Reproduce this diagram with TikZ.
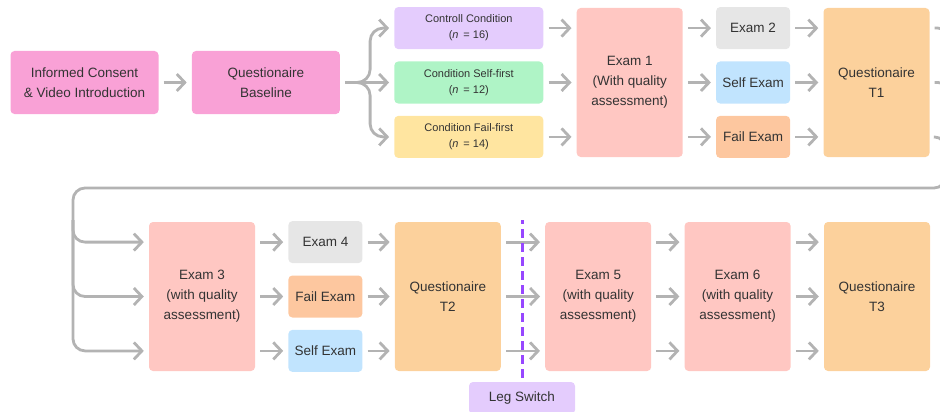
\documentclass[tikz,border=0pt]{standalone}
\usepackage{fontspec}
\setmainfont{Liberation Sans}
\usetikzlibrary{arrows.meta, positioning}

\definecolor{consentpink}{HTML}{F9A1D6}
\definecolor{controlpurple}{HTML}{E4CCFD}
\definecolor{selfgreen}{HTML}{AFF4C6}
\definecolor{failyellow}{HTML}{FFE5A0}
\definecolor{examred}{HTML}{FFC7C2}
\definecolor{examgrey}{HTML}{E6E6E6}
\definecolor{selfblue}{HTML}{C1E4FE}
\definecolor{failorange}{HTML}{FDC79F}
\definecolor{quesorange}{HTML}{FCD19C}
\definecolor{legpurple}{HTML}{9747FF}
\definecolor{arrowgrey}{HTML}{B3B3B3}
\definecolor{textgrey}{HTML}{333333}

\begin{document}
\begin{tikzpicture}[
x=1pt, y=1pt,
node distance=12pt and 33pt,
box/.style={rectangle, rounded corners=4pt, align=center, inner sep=1pt, text=textgrey, font=\fontsize{13.5}{20}\selectfont},
wide/.style={box, minimum width=148pt, minimum height=63pt},
cond/.style={box, minimum width=149pt, minimum height=42pt, font=\fontsize{11}{16}\selectfont},
small/.style={box, minimum width=74pt, minimum height=42pt},
tall/.style={box, minimum width=106pt, minimum height=149pt},
link/.style={draw=arrowgrey, line width=2.8pt, shorten <=5pt},
arrow/.style={link, -{Straight Barb[length=8pt, width=17pt]}, shorten >=5pt},
legline/.style={draw=legpurple, line width=3pt, dash pattern=on 9pt off 5pt}
]

\useasboundingbox (0,0) rectangle (940,-412);
\clip (0,0) rectangle (940,-412);

\node[wide, fill=consentpink] (consent) at (84.5,-82.5)
{Informed Consent\\
\& Video Introduction};

\node[wide, fill=consentpink, right=of consent] (baseline)
{Questionaire\\
Baseline};

\node[cond, fill=selfgreen, right=54pt of baseline] (selffirst)
{Condition Self-first\\
(\textit{n} \,= 12)};

\node[cond, fill=controlpurple, above=of selffirst] (control)
{Controll Condition\\
(\textit{n} \,= 16)};

\node[cond, fill=failyellow, below=of selffirst] (failfirst)
{Condition Fail-first\\
(\textit{n} \,= 14)};

\node[tall, fill=examred, right=of selffirst] (exam1)
{Exam 1\\
(With quality\\
assessment)};

\node[small, fill=selfblue, right=of exam1] (selfexam1) {Self Exam};
\node[small, fill=examgrey, above=of selfexam1] (exam2) {Exam 2};
\node[small, fill=failorange, below=of selfexam1] (failexam1) {Fail Exam};

\node[tall, fill=quesorange, right=of selfexam1] (t1)
{Questionaire\\
T1};

\node[tall, fill=examred] (exam3) at (202,-296.5)
{Exam 3\\
(with quality\\
assessment)};

\node[small, fill=failorange, right=of exam3] (failexam2) {Fail Exam};
\node[small, fill=examgrey, above=of failexam2] (exam4) {Exam 4};
\node[small, fill=selfblue, below=of failexam2] (selfexam2) {Self Exam};

\node[tall, fill=quesorange, right=32pt of failexam2] (t2)
{Questionaire\\
T2};

\node[tall, fill=examred, right=44pt of t2] (exam5)
{Exam 5\\
(with quality\\
assessment)};

\node[tall, fill=examred, right=of exam5] (exam6)
{Exam 6\\
(with quality\\
assessment)};

\node[tall, fill=quesorange, right=of exam6] (t3)
{Questionaire\\
T3};

\node[box, fill=controlpurple, minimum width=106pt, minimum height=32pt] (legswitch) at (522,-398)
{Leg Switch};

\coordinate (loopright) at (946,-188);
\coordinate (loopleft) at (73,-188);
\coordinate (loopmid) at (73,-215);

\draw[arrow] (consent) -- (baseline);
\draw[arrow, rounded corners=13pt] (baseline.east) -- ++(30,0) |- (control.west);
\draw[arrow] (baseline) -- (selffirst);
\draw[arrow, rounded corners=13pt] (baseline.east) -- ++(30,0) |- (failfirst.west);

\draw[arrow] (control) -- (exam1.west |- control);
\draw[arrow] (selffirst) -- (exam1.west |- selffirst);
\draw[arrow] (failfirst) -- (exam1.west |- failfirst);

\draw[arrow] (exam1.east |- exam2) -- (exam2);
\draw[arrow] (exam1.east |- selfexam1) -- (selfexam1);
\draw[arrow] (exam1.east |- failexam1) -- (failexam1);

\draw[arrow] (exam2) -- (t1.west |- exam2);
\draw[arrow] (selfexam1) -- (t1.west |- selfexam1);
\draw[arrow] (failexam1) -- (t1.west |- failexam1);

\draw[link, rounded corners=8pt] (t1.east |- exam2) -| (loopright);
\draw[link, rounded corners=8pt] (t1.east |- selfexam1) -| (loopright);
\draw[arrow, rounded corners=12pt] (t1.east |- failexam1) -| (loopright) -- (loopleft) |- (exam3.west |- selfexam2);
\draw[arrow, rounded corners=12pt] (loopmid) |- (exam3.west |- exam4);
\draw[arrow, rounded corners=12pt] (loopmid) |- (exam3.west |- failexam2);

\draw[arrow] (exam3.east |- exam4) -- (exam4);
\draw[arrow] (exam3.east |- failexam2) -- (failexam2);
\draw[arrow] (exam3.east |- selfexam2) -- (selfexam2);

\draw[arrow] (exam4) -- (t2.west |- exam4);
\draw[arrow] (failexam2) -- (t2.west |- failexam2);
\draw[arrow] (selfexam2) -- (t2.west |- selfexam2);

\draw[arrow] (t2.east |- exam4) -- (exam5.west |- exam4);
\draw[arrow] (t2.east |- failexam2) -- (exam5.west |- failexam2);
\draw[arrow] (t2.east |- selfexam2) -- (exam5.west |- selfexam2);

\draw[arrow] (exam5.east |- exam4) -- (exam6.west |- exam4);
\draw[arrow] (exam5.east |- failexam2) -- (exam6.west |- failexam2);
\draw[arrow] (exam5.east |- selfexam2) -- (exam6.west |- selfexam2);

\draw[arrow] (exam6.east |- exam4) -- (t3.west |- exam4);
\draw[arrow] (exam6.east |- failexam2) -- (t3.west |- failexam2);
\draw[arrow] (exam6.east |- selfexam2) -- (t3.west |- selfexam2);

\draw[legline] ([yshift=4pt]legswitch.north) -- ([yshift=2pt]legswitch.north |- t2.north);

\end{tikzpicture}
\end{document}
